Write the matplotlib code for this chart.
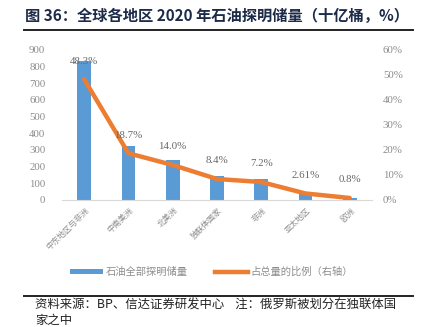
import matplotlib
matplotlib.use('Agg')
import matplotlib.pyplot as plt
from matplotlib.lines import Line2D
from matplotlib.patches import Patch

plt.rcParams['font.family'] = ['Noto Sans CJK SC', 'DejaVu Sans']

regions = ['中东地区与非洲', '中南美洲', '北美洲', '独联体国家', '非洲', '亚太地区', '欧洲']
reserves = [835.9, 323.4, 242.9, 146.2, 125.1, 45.2, 13.6]   # 十亿桶
share = [48.3, 18.7, 14.0, 8.4, 7.2, 2.61, 0.8]               # %
share_labels = ['48.3%', '18.7%', '14.0%', '8.4%', '7.2%', '2.61%', '0.8%']

BLUE = '#5B9BD5'
ORANGE = '#ED7D31'
GRAY = '#8c8c8c'
NUM_FONT = 'Liberation Serif'

fig = plt.figure(figsize=(4.23, 3.27), dpi=100)
fig.patch.set_facecolor('white')

# title and rules
fig.text(0.059, 0.951, '图 36：全球各地区 2020 年石油探明储量（十亿桶，%）',
         fontsize=11, fontweight='bold', color='#1c2b48', va='center', ha='left')
fig.add_artist(Line2D([0.057, 0.977], [0.908, 0.908], color='#222222', lw=1.4))
fig.add_artist(Line2D([0.057, 0.977], [0.095, 0.095], color='#222222', lw=1.4))
fig.text(0.083, 0.067, '资料来源：BP、信达证券研发中心    注：俄罗斯被划分在独联体国',
         fontsize=8.9, color='#222222', va='center', ha='left', style='italic')
fig.text(0.083, 0.021, '家之中',
         fontsize=8.9, color='#222222', va='center', ha='left', style='italic')

ax = fig.add_axes([0.1466, 0.3884, 0.7324, 0.4587])
x = range(len(regions))
ax.bar(x, reserves, width=0.31, color=BLUE, zorder=2)
ax.set_ylim(0, 900)
ax.set_xlim(-0.5, len(regions) - 0.5)
ax.set_yticks(range(0, 901, 100))
ax.set_yticklabels([str(v) for v in range(0, 901, 100)], fontfamily=NUM_FONT,
                   fontsize=7.8, color=GRAY)
ax.set_xticks(list(x))
ax.set_xticklabels(regions, rotation=45, ha='right', rotation_mode='anchor',
                   fontsize=5.8, color=GRAY)
ax.tick_params(axis='both', length=0)
ax.tick_params(axis='y', pad=12)
ax.tick_params(axis='x', pad=4)
for s in ['top', 'right', 'left']:
    ax.spines[s].set_visible(False)
ax.spines['bottom'].set_color('#d9d9d9')

ax2 = ax.twinx()
ax2.plot(list(x), share, color=ORANGE, lw=3.2, solid_capstyle='round', zorder=3)
ax2.set_ylim(0, 60)
ax2.set_xlim(-0.5, len(regions) - 0.5)
ax2.set_yticks(range(0, 61, 10))
ax2.set_yticklabels([f'{v}%' for v in range(0, 61, 10)], fontfamily=NUM_FONT,
                    fontsize=7.8, color=GRAY)
ax2.tick_params(axis='y', length=0, pad=8)
for s in ['top', 'right', 'left', 'bottom']:
    ax2.spines[s].set_visible(False)

for xi, v, lab in zip(x, share, share_labels):
    ax2.annotate(lab, (xi, v), xytext=(0, 13), textcoords='offset points',
                 ha='center', va='center', fontsize=7.8, color='#666666',
                 fontfamily=NUM_FONT)

handles = [Patch(facecolor=BLUE, edgecolor='none'),
           Line2D([0], [0], color=ORANGE, lw=3.2)]
fig.legend(handles, ['石油全部探明储量', '占总量的比例（右轴）'], loc='center',
           bbox_to_anchor=(0.5, 0.168), ncol=2, frameon=False, fontsize=7.4,
           labelcolor=GRAY, handlelength=3.2, handleheight=0.35,
           columnspacing=2.6, handletextpad=0.3)

fig.savefig('out.png', dpi=100)
